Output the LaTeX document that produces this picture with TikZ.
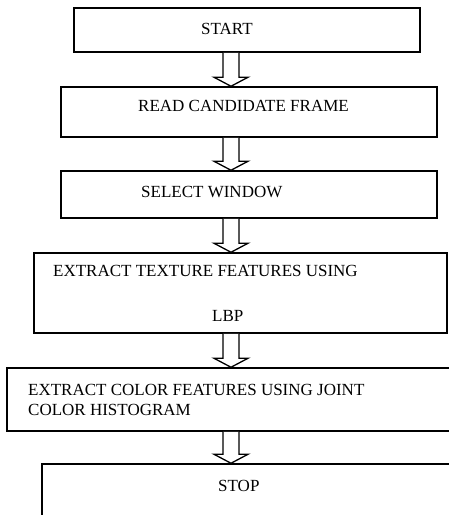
\documentclass[tikz,border=0pt]{standalone}
\usepackage{fontspec}
\setmainfont{Liberation Serif}
\usepackage{tikz}
\usetikzlibrary{calc}
\tikzset{
  stepbox/.style={draw,line width=1.5pt,rectangle,inner sep=0pt},
  steptxt/.style={anchor=base west,inner sep=0pt,font=\fontsize{17}{19}\selectfont},
  arrowline/.style={line width=1.3pt,fill=white,line join=miter}
}
% hollow block arrow between two boxes, at the x of (ax)
\newcommand{\blkarrow}[2]{\draw[arrowline] ($(#1.south -| ax)+(-8,0)$) -- ($(#2.north -| ax)+(-8,-9)$) -- ($(#2.north -| ax)+(-17,-9)$) -- (#2.north -| ax) -- ($(#2.north -| ax)+(17,-9)$) -- ($(#2.north -| ax)+(8,-9)$) -- ($(#1.south -| ax)+(8,0)$);}

\begin{document}
\begin{tikzpicture}[x=1pt,y=-1pt]
\useasboundingbox (0,0) rectangle (449,515);
\clip (0,0) rectangle (449,515);
\coordinate (ax) at (231,0);
% ---- boxes ----
\node[stepbox,minimum width=346,minimum height=44] (start) at (247,30) {};
\node[stepbox,minimum width=376,minimum height=50] (read) at (249,112) {};
\node[stepbox,minimum width=376,minimum height=47] (window) at (249,194.5) {};
\node[stepbox,minimum width=413,minimum height=80] (lbp) at (240.5,293) {};
\node[stepbox,minimum width=463,minimum height=63] (color) at (238.5,399.5) {};
\node[stepbox,minimum width=428,minimum height=76] (stop) at (256,502) {};
% ---- texts ----
\node[steptxt] (tstart) at (201,34) {START};
\node[steptxt] (tread) at (138,111.7) {READ CANDIDATE FRAME};
\node[steptxt] (twindow) at (141,197) {SELECT WINDOW};
\node[steptxt] (tlbpa) at (53,276) {EXTRACT TEXTURE FEATURES USING};
\node[steptxt] (tlbpb) at (212,321) {LBP};
\node[steptxt] (tcola) at (28,395) {EXTRACT COLOR FEATURES USING JOINT};
\node[steptxt] (tcolb) at (28,415.7) {COLOR HISTOGRAM};
\node[steptxt] (tstop) at (218,491) {STOP};
% ---- arrows ----
\blkarrow{start}{read}
\blkarrow{read}{window}
\blkarrow{window}{lbp}
\blkarrow{lbp}{color}
\blkarrow{color}{stop}
\end{tikzpicture}
\end{document}
